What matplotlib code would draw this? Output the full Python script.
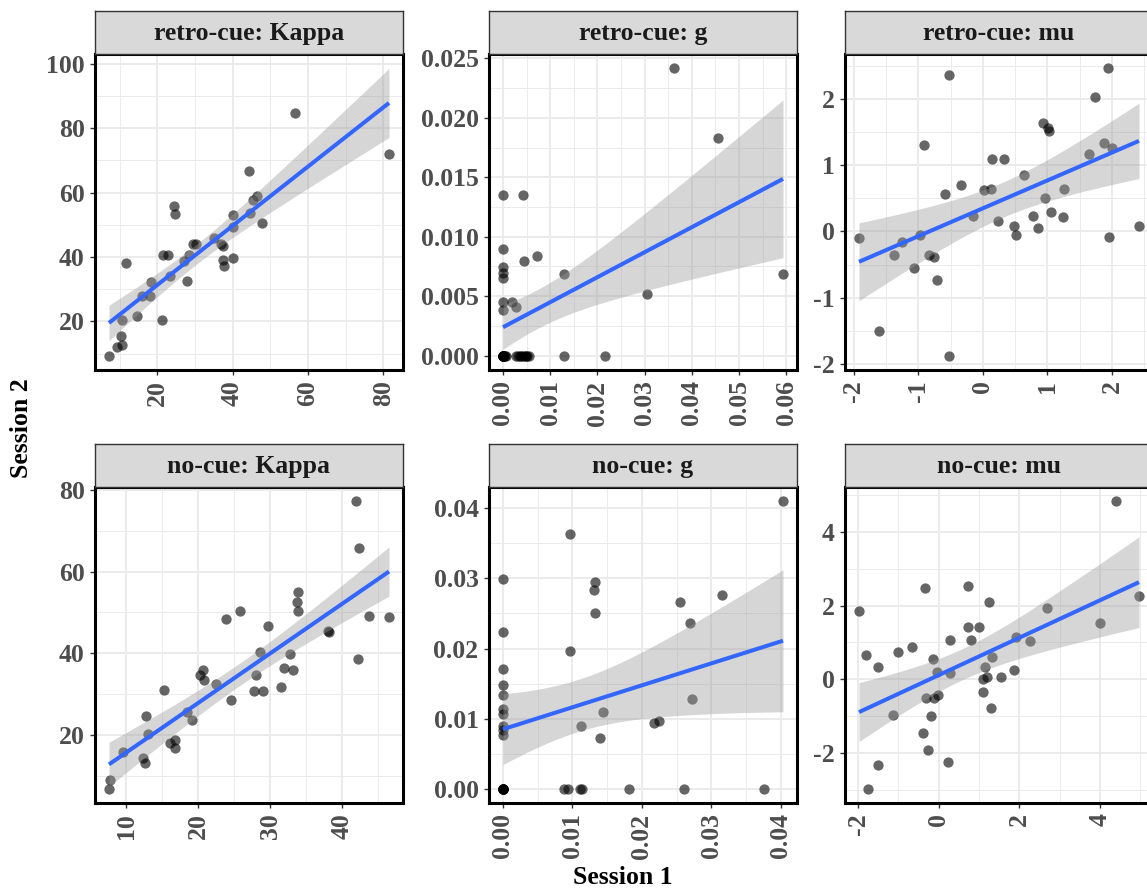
import numpy as np
import matplotlib
matplotlib.use("Agg")
import matplotlib.pyplot as plt

plt.rcParams["font.family"] = ["Liberation Serif", "DejaVu Serif"]
plt.rcParams["font.weight"] = "bold"
plt.rcParams["axes.unicode_minus"] = False

# ---------------- data ----------------
panel_titles = ["retro-cue: Kappa", "retro-cue: g", "retro-cue: mu",
                "no-cue: Kappa", "no-cue: g", "no-cue: mu"]

rk_x = [7.2, 9.2, 10.7, 10.5, 10.7, 11.6, 14.7, 16.0, 18.0, 18.4, 21.3, 21.5, 22.8, 23.5, 24.5,
        24.8, 27.2, 27.9, 28.5, 29.4, 30.3, 35.1, 36.9, 37.5, 37.5, 37.8, 40.1, 40.1, 40.2, 44.4,
        44.6, 45.5, 46.4, 47.9, 56.6, 81.5]
rk_y = [9.4, 12.0, 12.7, 15.6, 20.4, 38.1, 21.7, 27.9, 27.9, 32.2, 20.4, 40.7, 40.7, 34.1, 55.9,
        53.5, 38.7, 32.7, 40.7, 44.0, 44.0, 45.8, 44.0, 43.3, 39.2, 37.3, 53.0, 49.4, 39.7, 66.6,
        53.8, 57.6, 58.9, 50.5, 84.6, 72.0]

rg_x = [0.0, 0.0042, 0.0, 0.0, 0.0, 0.0, 0.0044, 0.0072, 0.0, 0.0, 0.0020, 0.0027, 0.0130,
        0.0305, 0.0363, 0.0455, 0.0593,
        0.0, 0.0, 0.0, 0.0, 0.0, 0.0, 0.0, 0.0, 0.0003, 0.0005, 0.0007, 0.0028, 0.0032, 0.0035,
        0.0038, 0.0042, 0.0046, 0.0048, 0.0050, 0.0055, 0.0130, 0.0216]
rg_y = [0.01355, 0.01355, 0.0090, 0.00749, 0.00698, 0.00654, 0.0080, 0.0084, 0.00447, 0.00385,
        0.00447, 0.0041, 0.0069, 0.00517, 0.02416, 0.0183, 0.0069,
        0.0, 0.0, 0.0, 0.0, 0.0, 0.0, 0.0, 0.0, 0.0, 0.0, 0.0, 0.0, 0.0, 0.0,
        0.0, 0.0, 0.0, 0.0, 0.0, 0.0, 0.0, 0.0]

rm_x = [-1.92, -1.61, -1.38, -1.25, -1.06, -0.97, -0.92, -0.84, -0.76, -0.71, -0.59, -0.52, -0.52,
        -0.34, -0.15, 0.01, 0.12, 0.14, 0.23, 0.32, 0.48, 0.52, 0.64, 0.77, 0.85, 0.93, 0.97, 1.01,
        1.03, 1.05, 1.24, 1.26, 1.64, 1.74, 1.88, 1.94, 2.00, 1.95, 2.42]
rm_y = [-0.095, -1.50, -0.36, -0.16, -0.55, -0.05, 1.31, -0.36, -0.39, -0.73, 0.56, 2.37, -1.88,
        0.70, 0.23, 0.63, 0.64, 1.10, 0.16, 1.10, 0.09, -0.05, 0.85, 0.24, 0.05, 1.65, 0.50, 1.57,
        1.52, 0.30, 0.22, 0.64, 1.17, 2.03, 1.34, 2.47, 1.26, -0.085, 0.09]

nk_x = [7.6, 7.8, 9.6, 12.3, 12.6, 12.7, 13.0, 15.3, 16.1, 16.7, 16.8, 18.4, 19.2, 20.3, 20.7,
        20.8, 22.4, 23.8, 24.6, 25.8, 27.8, 28.0, 28.6, 29.0, 29.7, 31.5, 31.9, 32.8, 33.2, 33.7,
        33.9, 33.9, 38.1, 38.0, 41.9, 42.2, 42.3, 43.7, 46.5]
nk_y = [6.8, 8.8, 15.7, 14.3, 13.2, 24.6, 20.2, 30.9, 18.0, 16.7, 18.6, 25.5, 23.6, 34.7, 35.9,
        33.4, 32.5, 48.3, 28.6, 50.3, 30.8, 34.7, 40.2, 30.7, 46.7, 31.8, 36.3, 39.9, 35.8, 52.6,
        50.3, 55.0, 45.2, 45.4, 77.2, 38.6, 65.8, 49.2, 48.9]

ng_x = [0.0, 0.0, 0.0, 0.0, 0.0, 0.0, 0.0, 0.0, 0.0, 0.0,
        0.0097, 0.0097, 0.0132, 0.0131, 0.0132, 0.0112, 0.0140, 0.0144, 0.0218, 0.0225,
        0.0255, 0.0269, 0.0272, 0.0315, 0.0403,
        0.0, 0.0, 0.0, 0.0, 0.0, 0.0, 0.0, 0.0088, 0.0093, 0.0111, 0.0114, 0.0182, 0.0260, 0.0376]
ng_y = [0.0299, 0.0223, 0.0171, 0.0148, 0.0133, 0.0114, 0.0106, 0.0090, 0.0084, 0.0077,
        0.0363, 0.0197, 0.0295, 0.0284, 0.0251, 0.0090, 0.0072, 0.0110, 0.0094, 0.0096,
        0.0266, 0.0236, 0.0128, 0.0276, 0.0410,
        0.0, 0.0, 0.0, 0.0, 0.0, 0.0, 0.0, 0.0, 0.0, 0.0, 0.0, 0.0, 0.0, 0.0]

nm_x = [-1.98, -1.81, -1.75, -1.51, -1.51, -1.13, -1.02, -0.67, -0.38, -0.35, -0.31, -0.27, -0.20,
        -0.14, -0.11, -0.05, -0.02, 0.23, 0.28, 0.29, 0.73, 0.73, 0.81, 1.00, 1.10, 1.11, 1.14,
        1.20, 1.24, 1.30, 1.33, 1.54, 1.87, 1.91, 2.27, 2.68, 4.01, 4.41, 4.97]
nm_y = [1.86, 0.67, -2.97, 0.32, -2.32, -0.97, 0.75, 0.88, -1.46, 2.47, -0.50, -1.93, -1.01,
        0.56, -0.52, 0.19, -0.42, -2.25, 0.16, 1.06, 2.53, 1.43, 1.06, 1.43, 0.00, -0.34, 0.33,
        0.07, 2.10, -0.79, 0.60, 0.05, 0.25, 1.16, 1.03, 1.94, 1.53, 4.83, 2.27]

# tick values and labels
rk_xt = [20, 40, 60, 80];            rk_yt = [20, 40, 60, 80, 100]
rg_xt = [0.0, 0.01, 0.02, 0.03, 0.04, 0.05, 0.06]
rg_yt = [0.0, 0.005, 0.010, 0.015, 0.020, 0.025]
rm_xt = [-2, -1, 0, 1, 2];           rm_yt = [-2, -1, 0, 1, 2]
nk_xt = [10, 20, 30, 40];            nk_yt = [20, 40, 60, 80]
ng_xt = [0.0, 0.01, 0.02, 0.03, 0.04]; ng_yt = [0.0, 0.01, 0.02, 0.03, 0.04]
nm_xt = [-2, 0, 2, 4];               nm_yt = [-2, 0, 2, 4]

panels = [
    (rk_x, rk_y, rk_xt, rk_yt, "{:.0f}", "{:.0f}"),
    (rg_x, rg_y, rg_xt, rg_yt, "{:.2f}", "{:.3f}"),
    (rm_x, rm_y, rm_xt, rm_yt, "{:.0f}", "{:.0f}"),
    (nk_x, nk_y, nk_xt, nk_yt, "{:.0f}", "{:.0f}"),
    (ng_x, ng_y, ng_xt, ng_yt, "{:.2f}", "{:.2f}"),
    (nm_x, nm_y, nm_xt, nm_yt, "{:.0f}", "{:.0f}"),
]

# ---------------- layout ----------------
W, H = 1147, 893
fig = plt.figure(figsize=(W / 100, H / 100), dpi=100)

col_left = [95, 489, 845]
panel_w = 308
row_top = [54, 487]     # panel top (px)
panel_h = 316
strip_h = 43


def tq(df):
    z = 1.959964
    return z + (z**3 + z) / (4 * df) + (5 * z**5 + 16 * z**3 + 3 * z) / (96 * df**2)


def fit_band(x, y):
    x = np.asarray(x, float); y = np.asarray(y, float)
    n = len(x)
    b, a = np.polyfit(x, y, 1)
    res = y - (a + b * x)
    s = np.sqrt(np.sum(res**2) / (n - 2))
    xm = x.mean(); sxx = np.sum((x - xm) ** 2)
    xs = np.linspace(x.min(), x.max(), 80)
    yh = a + b * xs
    se = s * np.sqrt(1.0 / n + (xs - xm) ** 2 / sxx)
    t = tq(n - 2)
    return xs, yh, yh - t * se, yh + t * se


def expand(lo, hi, f=0.05):
    d = hi - lo
    return lo - f * d, hi + f * d


for i, (px, py, xt, yt, xf, yf) in enumerate(panels):
    r, c = divmod(i, 3)
    left = col_left[c]
    top = row_top[r]
    ax = fig.add_axes([left / W, 1 - (top + panel_h) / H, panel_w / W, panel_h / H])
    xs, yh, lo, hi = fit_band(px, py)

    ax.scatter(px, py, s=55, color="black", alpha=0.6, linewidths=0, zorder=3)
    ax.fill_between(xs, lo, hi, color="#999999", alpha=0.4, linewidth=0, zorder=4)
    ax.plot(xs, yh, color="#3366FF", lw=2.9, zorder=5, solid_capstyle="butt")

    xl = expand(min(px), max(px))
    yl = expand(min(min(py), lo.min()), max(max(py), hi.max()))

    ax.set_xticks(xt)
    ax.set_xticklabels([xf.format(v) for v in xt], rotation=90)
    ax.set_yticks(yt)
    ax.set_yticklabels([yf.format(v) for v in yt])
    dx = xt[1] - xt[0]; dy = yt[1] - yt[0]
    ax.set_xticks([v + dx / 2 for v in [xt[0] - dx] + list(xt)], minor=True)
    ax.set_yticks([v + dy / 2 for v in [yt[0] - dy] + list(yt)], minor=True)
    ax.set_xlim(xl); ax.set_ylim(yl)

    ax.grid(which="major", color="#EBEBEB", lw=1.4, zorder=0)
    ax.grid(which="minor", color="#EBEBEB", lw=0.7, zorder=0)
    ax.set_axisbelow(True)
    ax.tick_params(which="minor", length=0)
    ax.tick_params(which="major", length=3.5, width=1.0, color="#333333",
                   labelsize=18.5, labelcolor="#4D4D4D", pad=4)
    for lab in ax.get_xticklabels() + ax.get_yticklabels():
        lab.set_fontweight("bold")
    for sp in ax.spines.values():
        sp.set_linewidth(2.2)
        sp.set_color("black")
        sp.set_zorder(6)

    sax = fig.add_axes([left / W, 1 - top / H, panel_w / W, strip_h / H])
    sax.set_facecolor("#D9D9D9")
    sax.set_xticks([]); sax.set_yticks([])
    for sp in sax.spines.values():
        sp.set_linewidth(1.0)
        sp.set_color("#333333")
    sax.text(0.5, 0.47, panel_titles[i], transform=sax.transAxes, ha="center", va="center",
             fontsize=18.5, fontweight="bold", color="#1A1A1A")

fig.text(623 / W, 1 - 878 / H, "Session 1", ha="center", va="center",
         fontsize=18.5, fontweight="bold", color="black")
fig.text(22 / W, 1 - 428 / H, "Session 2", ha="center", va="center", rotation=90,
         fontsize=18.5, fontweight="bold", color="black")

fig.savefig("out.png", dpi=100, facecolor="white")
